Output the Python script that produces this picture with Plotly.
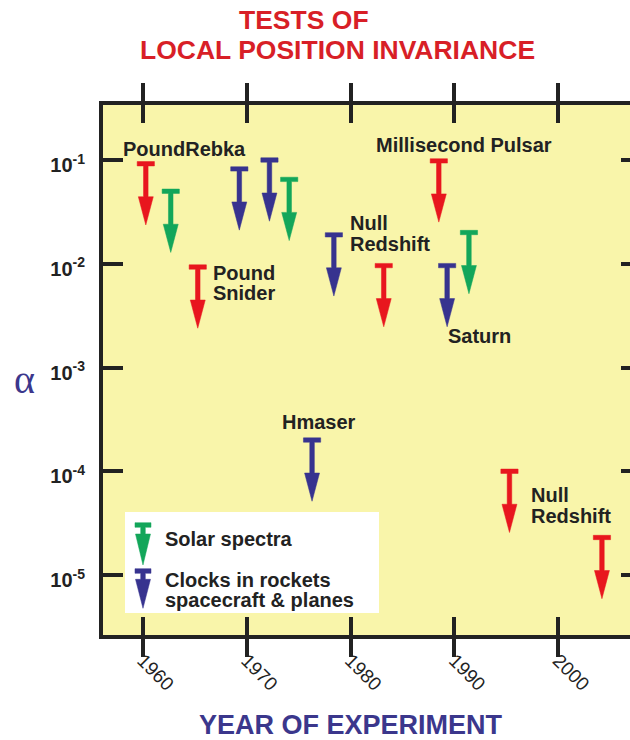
import numpy as np
import plotly.graph_objects as go

# ---------------- data (upper limits on alpha) ----------------
red_year = [1960.3, 1965.3, 1983.2, 1988.5, 1995.3, 2004.2]
red_alpha = [0.092, 0.0093, 0.0096, 0.098, 1.0e-4, 2.3e-5]
green_year = [1962.7, 1974.1, 1991.4]
green_alpha = [0.050, 0.065, 0.020]
blue_year = [1969.3, 1972.2, 1976.3, 1978.4, 1989.3]
blue_alpha = [0.082, 0.10, 2.0e-4, 0.019, 0.0096]

x_tickvals = [1960, 1970, 1980, 1990, 2000]
x_ticktext = ["1960", "1970", "1980", "1990", "2000"]
y_tickvals = [1e-1, 1e-2, 1e-3, 1e-4, 1e-5]
y_ticktext = ["<b>10<sup>-1</sup></b>", "<b>10<sup>-2</sup></b>", "<b>10<sup>-3</sup></b>",
              "<b>10<sup>-4</sup></b>", "<b>10<sup>-5</sup></b>"]

# ---------------- style ----------------
RED = "#e8161e"
GREEN = "#13a65a"
BLUE = "#37338f"
DARK = "#222222"
YELLOW = "#f9f5aa"
TITLE_RED = "#d81f27"
TITLE_BLUE = "#3b378c"
FONT = "Liberation Sans, Arial, Helvetica, sans-serif"

W, H = 630, 740
ML, MR, MT, MB = 103, 0, 105, 105
XR = [1956.18, 2006.90]
YR = [-5.578, -0.470]

# arrow geometry (years / decades)
CAP_HW, CAP_H = 0.83, 0.021
SHAFT_HW = 0.22
HEAD_HW, HEAD_TOP, TIP = 0.72, 0.318, 0.59


def arrows(years, vals):
    xs, ys = [], []
    for x, v in zip(years, vals):
        l = np.log10(v)
        pts = [(x - CAP_HW, l + CAP_H), (x + CAP_HW, l + CAP_H), (x + CAP_HW, l - CAP_H),
               (x + SHAFT_HW, l - CAP_H), (x + SHAFT_HW, l - HEAD_TOP), (x + HEAD_HW, l - HEAD_TOP),
               (x, l - TIP), (x - HEAD_HW, l - HEAD_TOP), (x - SHAFT_HW, l - HEAD_TOP),
               (x - SHAFT_HW, l - CAP_H), (x - CAP_HW, l - CAP_H), (x - CAP_HW, l + CAP_H)]
        xs += [p[0] for p in pts] + [None]
        ys += [10 ** p[1] for p in pts] + [None]
    return xs, ys


fig = go.Figure()
for name, yrs, vals, col in [("Redshift experiments", red_year, red_alpha, RED),
                             ("Solar spectra", green_year, green_alpha, GREEN),
                             ("Clocks in rockets, spacecraft & planes", blue_year, blue_alpha, BLUE)]:
    ax, ay = arrows(yrs, vals)
    fig.add_trace(go.Scatter(x=ax, y=ay, mode="lines", fill="toself", fillcolor=col,
                             line=dict(color=col, width=0.5), name=name, hoverinfo="skip"))

# invisible trace so the right-hand tick axis is drawn
fig.add_trace(go.Scatter(x=[None], y=[None], yaxis="y2", showlegend=False, hoverinfo="skip"))

PW, PH = W - ML - MR, H - MT - MB


def xp(px):
    return (px - ML) / PW


def yp(py):
    return (H - MB - py) / PH


annotations = []


def label(text, left, cy, size=20, color=DARK, anchor="left", bold=True, family=FONT):
    annotations.append(dict(text=("<b>%s</b>" % text) if bold else text, xref="paper", yref="paper",
                            x=xp(left), y=yp(cy), xanchor=anchor, yanchor="middle", showarrow=False,
                            borderpad=0, borderwidth=0,
                            font=dict(size=size, color=color, family=family)))


label("PoundRebka", 123, 148.5)
label("Pound", 213, 273.3)
label("Snider", 213, 293.3)
label("Millisecond Pulsar", 375.5, 144.7)
label("Null", 349.5, 222.7)
label("Redshift", 349.5, 243.7)
label("Saturn", 448, 336.3)
label("Hmaser", 281.5, 422)
label("Null", 531, 494.5)
label("Redshift", 531, 516.3)
label("Solar spectra", 165, 538.7)
label("Clocks in rockets", 165, 579.7)
label("spacecraft &amp; planes", 165, 600.3)

# titles
label("TESTS OF", 304, 19.5, size=26.5, color=TITLE_RED, anchor="center")
label("LOCAL POSITION INVARIANCE", 337, 49.5, size=26.5, color=TITLE_RED, anchor="center")
label("YEAR OF EXPERIMENT", 351, 724.5, size=27, color=TITLE_BLUE, anchor="center")
label("α", 24, 379, size=40, color=TITLE_BLUE, anchor="center", bold=False,
      family="Liberation Serif, Times New Roman, serif")


def legend_arrow(xc, ycap, headtop, tip, col):
    pts = [(xc - 8, ycap - 2.3), (xc + 8, ycap - 2.3), (xc + 8, ycap + 2.3), (xc + 2.3, ycap + 2.3),
           (xc + 2.3, headtop), (xc + 7.5, headtop), (xc, tip), (xc - 7.5, headtop), (xc - 2.3, headtop),
           (xc - 2.3, ycap + 2.3), (xc - 8, ycap + 2.3)]
    path = "M " + " L ".join("%.5f,%.5f" % (xp(a), yp(b)) for a, b in pts) + " Z"
    return dict(type="path", xref="paper", yref="paper", path=path, fillcolor=col,
                line=dict(color=col, width=0.5), layer="above")


shapes = [
    dict(type="rect", xref="paper", yref="paper", x0=xp(125), x1=xp(379), y0=yp(613), y1=yp(512),
         fillcolor="white", line=dict(width=0), layer="below"),
    legend_arrow(143, 525, 534, 565, GREEN),
    legend_arrow(143, 571, 579.3, 608.3, BLUE),
]

axis_common = dict(showgrid=False, zeroline=False, ticks="inside", tickwidth=4, tickcolor=DARK,
                   showline=True, linewidth=4, linecolor=DARK)

fig.update_layout(
    width=W, height=H,
    margin=dict(l=ML, r=MR, t=MT, b=MB, pad=0),
    paper_bgcolor="white", plot_bgcolor=YELLOW,
    showlegend=False,
    annotations=annotations,
    shapes=shapes,
    xaxis=dict(range=XR, tickvals=x_tickvals, ticktext=x_ticktext, ticklen=18, mirror="allticks",
               tickangle=45, ticklabelstandoff=3,
               tickfont=dict(size=19, color=DARK, family=FONT), **axis_common),
    yaxis=dict(type="log", range=YR, tickvals=y_tickvals, ticktext=y_ticktext, ticklen=20, mirror=False,
               tickfont=dict(size=20, color=DARK, family=FONT), ticklabelstandoff=10, ticklabelshift=5,
               **axis_common),
    yaxis2=dict(type="log", range=YR, overlaying="y", side="right", anchor="x", tickvals=y_tickvals,
                showticklabels=False, ticks="inside", ticklen=9, tickwidth=4, tickcolor=DARK,
                showline=False, showgrid=False, zeroline=False),
)

fig.write_html("out.html")
